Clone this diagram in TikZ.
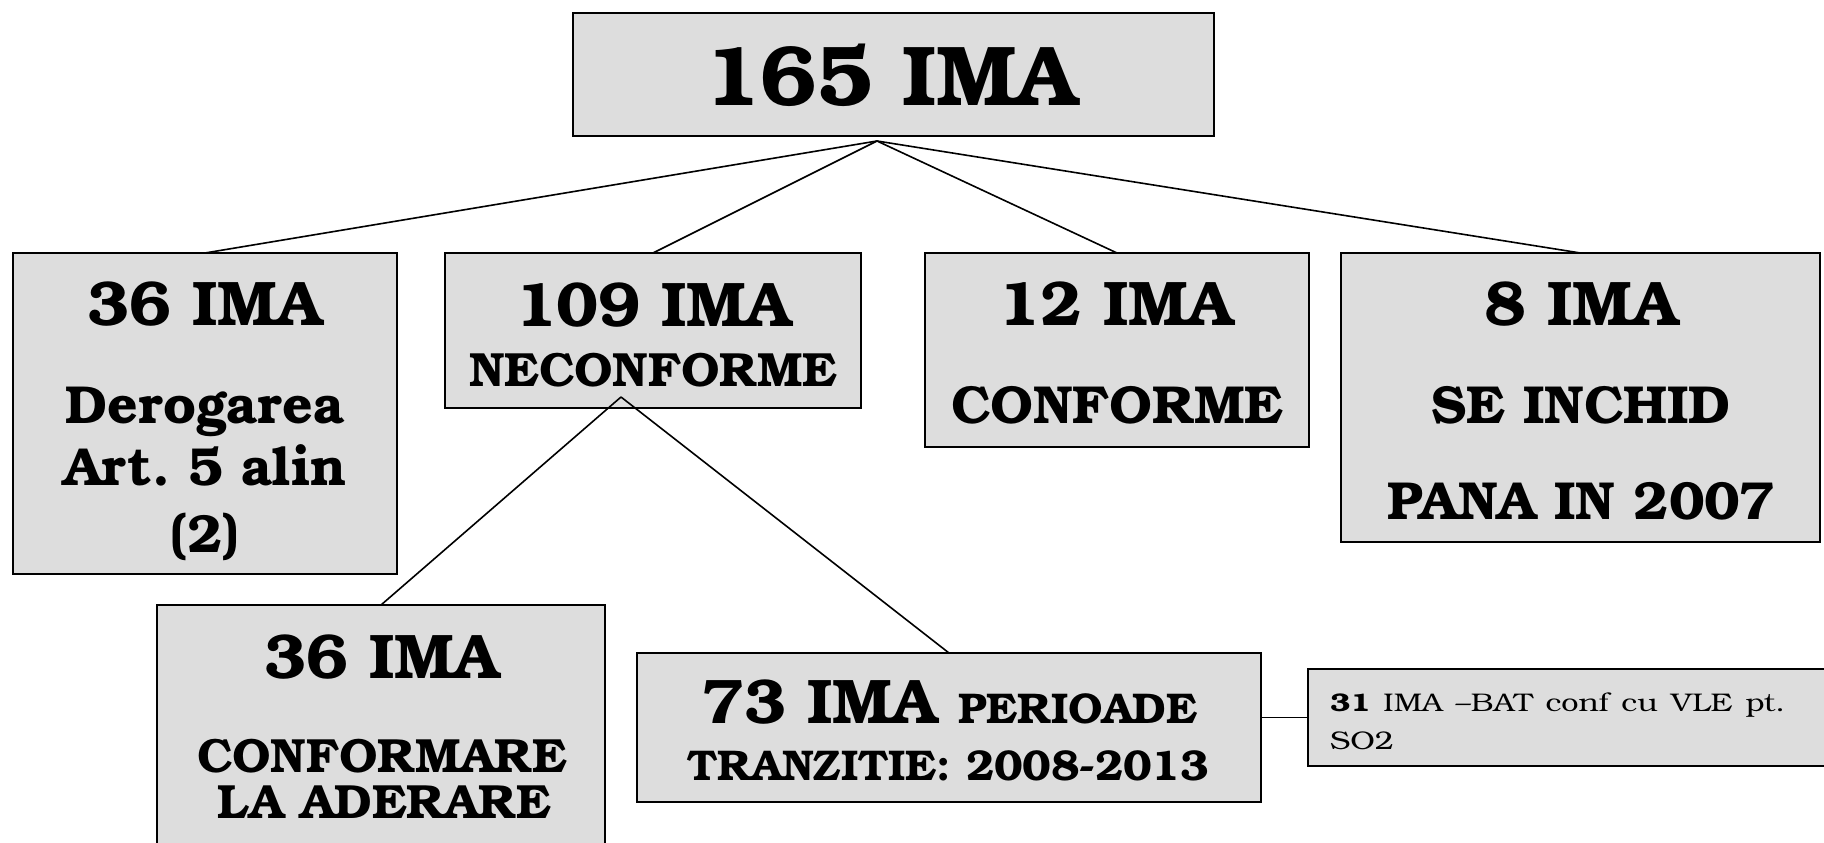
\documentclass[tikz,border=0pt]{standalone}
\usepackage{fontspec}
\setmainfont{TeX Gyre Bonum}
\newfontfamily\notefont[FakeStretch=1.2]{TeX Gyre Bonum}
\definecolor{boxgray}{RGB}{221,221,221}
\tikzset{
  box/.style={draw, fill=boxgray, line width=2.2pt, anchor=north west,
    inner sep=0pt, outer sep=0pt},
  link/.style={line width=1.6pt},
  txt/.style={anchor=base, inner sep=0pt},
  title/.style={txt, font=\fontsize{85}{85}\selectfont\bfseries},
  head/.style={txt, font=\fontsize{63}{63}\selectfont\bfseries},
  sub/.style={txt, font=\fontsize{53.5}{53.5}\selectfont\bfseries},
  subs/.style={txt, font=\fontsize{48}{48}\selectfont\bfseries},
  tiny/.style={txt, font=\fontsize{43}{43}\selectfont\bfseries},
  note/.style={anchor=base west, inner sep=0pt, font=\notefont\fontsize{25.5}{25.5}\selectfont}
}
\begin{document}
\begin{tikzpicture}[x=1pt,y=-1pt]
  \useasboundingbox (0,0) rectangle (1824,843);
  \clip (0,0) rectangle (1824,843);
  % boxes
  \node[box,minimum width=641pt,minimum height=123pt] (ima165) at (573,13) {};
  \node[box,minimum width=384pt,minimum height=321pt] (derog) at (13,253) {};
  \node[box,minimum width=416pt,minimum height=155pt] (necon) at (445,253) {};
  \node[box,minimum width=384pt,minimum height=194pt] (conf) at (925,253) {};
  \node[box,minimum width=479pt,minimum height=289pt] (inchid) at (1341,253) {};
  \node[box,minimum width=448pt,minimum height=260pt] (aderare) at (157,605) {};
  \node[box,minimum width=624pt,minimum height=149pt] (tranz) at (637,653) {};
  \node[box,minimum width=540pt,minimum height=97pt] (bat) at (1308,669) {};
  % connectors
  \coordinate (top) at (877,141);
  \coordinate (mid) at (621,397);
  \draw[link] (top) -- (derog.north);
  \draw[link] (top) -- (necon.north);
  \draw[link] (top) -- (conf.north);
  \draw[link] (top) -- (inchid.north);
  \draw[link] (mid) -- (aderare.north);
  \draw[link] (mid) -- (tranz.north);
  \draw[link] (bat.west) -- (bat.west -| tranz.east);
  % texts
  \node[title] (t165) at (891,106) {165 IMA};
  \node[head] (t36a) at (205,325) {36 IMA};
  \node[sub] (tderog) at (205,423) {Derogarea};
  \node[sub] (tart) at (205,485) {Art.\ 5 alin};
  \node[sub] (talin) at (205,552) {(2)};
  \node[head] (t109) at (653,326) {109 IMA};
  \node[subs] (tnecon) at (653,386) {NECONFORME};
  \node[head] (t12) at (1116,325) {12 IMA};
  \node[sub] (tconf) at (1117,423) {CONFORME};
  \node[head] (t8) at (1581,325) {8 IMA};
  \node[sub] (tinchid) at (1581,423) {SE INCHID};
  \node[sub] (tpana) at (1581,519) {PANA IN 2007};
  \node[head] (t36b) at (382,678) {36 IMA};
  \node[subs] (tconfa) at (382,772) {CONFORMARE};
  \node[subs] (tader) at (384,818) {LA ADERARE};
  \node[head] (t73) at (950,723) {73 IMA {\fontsize{43}{43}\selectfont PERIOADE}};
  \node[tiny] (ttranz) at (948,780) {TRANZITIE: 2008-2013};
  \node[note] (tbat) at (1330,711) {\makebox[455pt][s]{\textbf{31} IMA –BAT conf cu VLE pt.}};
  \node[note] (tso) at (1330,749) {SO2};
\end{tikzpicture}
\end{document}
